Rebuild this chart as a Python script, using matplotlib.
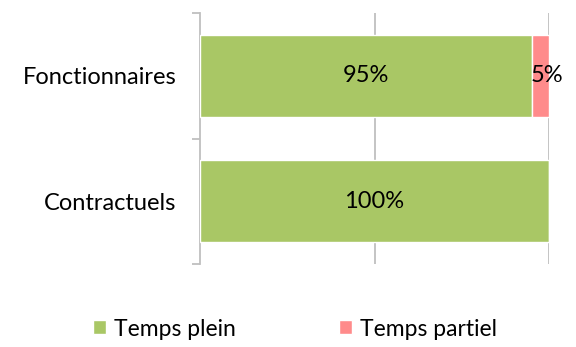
import matplotlib
matplotlib.use("Agg")
import matplotlib.pyplot as plt
import numpy as np

plt.rcParams['font.family'] = ['Lato', 'DejaVu Sans']

categories = ["Contractuels", "Fonctionnaires"]
temps_plein = [1.00, 0.95]
temps_partiel = [0.00, 0.05]
labels_plein = ["100%", "95%"]
labels_partiel = ["", "5%"]

green = "#A9C765"
pink = "#FF8B8B"
grid_col = "#BFBFBF"
fs = 17

fig = plt.figure(figsize=(5.76, 3.47), dpi=100)
ax = fig.add_axes([200 / 576, 1 - 264 / 347, 349 / 576, 251 / 347])

y = np.arange(len(categories))
h = 0.65
b1 = ax.barh(y, temps_plein, height=h, color=green, edgecolor="white", linewidth=1, label="Temps plein", zorder=3)
b2 = ax.barh(y, temps_partiel, height=h, left=temps_plein, color=pink, edgecolor="white", linewidth=1, label="Temps partiel", zorder=3)

for rect, txt in zip(b1, labels_plein):
    ax.text(rect.get_x() + rect.get_width() / 2, rect.get_y() + rect.get_height() / 2, txt,
            ha="center", va="center", fontsize=fs, color="black", zorder=4)
for rect, txt in zip(b2, labels_partiel):
    if txt:
        # label sits a bit to the right of the thin bar, spilling past it
        ax.annotate(txt, (rect.get_x() + rect.get_width() / 2, rect.get_y() + rect.get_height() / 2),
                    xytext=(5, 0), textcoords="offset points",
                    ha="center", va="center", fontsize=fs, color="black", zorder=4)

ax.set_xlim(0, 1)
ax.set_ylim(-0.5, 1.5)
ax.set_xticks([0.5, 1.0])
ax.set_xticklabels([])
ax.tick_params(axis="x", length=0)
ax.grid(axis="x", color=grid_col, linewidth=1.3, zorder=0)

ax.set_yticks(y)
ax.set_yticklabels(categories, fontsize=fs)
ax.tick_params(axis="y", which="major", length=0, pad=17)
ax.set_yticks([-0.5, 0.5, 1.5], minor=True)
ax.tick_params(axis="y", which="minor", length=6, color=grid_col, width=1.3)

for s in ["top", "right", "bottom"]:
    ax.spines[s].set_visible(False)
ax.spines["left"].set_color(grid_col)
ax.spines["left"].set_linewidth(1.3)

fig.legend(handles=[b1, b2], loc="center", bbox_to_anchor=(0.512, 1 - 329 / 347), ncol=2,
           frameon=False, fontsize=16.5, handlelength=0.55, handleheight=0.55, handletextpad=0.35,
           columnspacing=4.5)

fig.savefig("out.png", dpi=100)
